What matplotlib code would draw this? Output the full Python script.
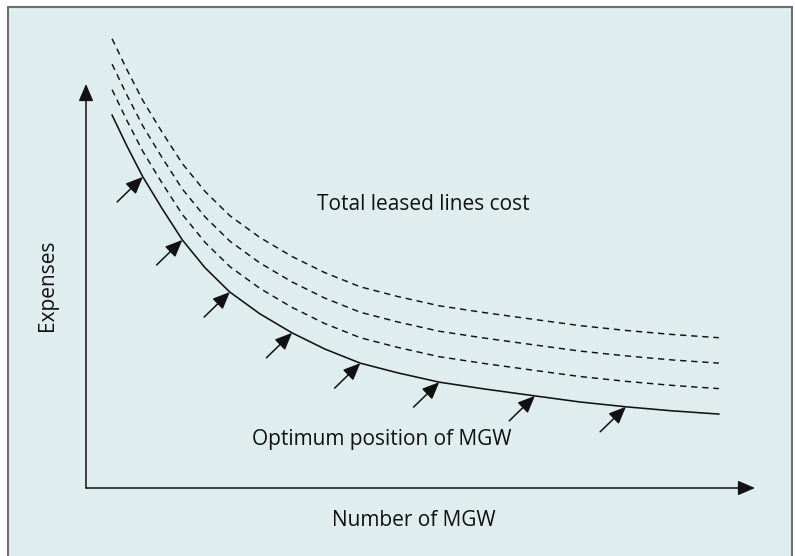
import matplotlib.pyplot as plt
from matplotlib.patches import Rectangle

plt.rcParams['font.family'] = ['Open Sans', 'DejaVu Sans']

# curve (arbitrary units, axis origin = 0,0)
mgw = [0.39, 0.61, 0.85, 1.14, 1.44, 1.78, 2.15, 2.60, 3.08, 3.57,
       4.10, 4.66, 5.28, 5.96, 6.71, 7.38, 8.07, 8.76, 9.46]
expenses = [9.23, 8.47, 7.70, 6.91, 6.14, 5.45, 4.85, 4.31, 3.84, 3.44,
            3.09, 2.85, 2.62, 2.45, 2.28, 2.13, 2.01, 1.91, 1.83]
# dashed "total leased lines cost" curves sit above the optimum curve
offsets = [0.63, 1.26, 1.89]
# arrows point at these curve points
arrow_idx = [2, 4, 6, 8, 10, 12, 14, 16]

bg = '#dfedee'
ink = '#111111'

fig = plt.figure(figsize=(7.95, 5.56), dpi=100)
fig.patch.set_facecolor('white')
fig.patches.append(Rectangle((8 / 795, -0.05), 784 / 795, 1 - 7 / 556 + 0.05,
                             transform=fig.transFigure, facecolor=bg,
                             edgecolor='#6e6e6e', linewidth=1.5, zorder=-10))

ax = fig.add_axes([86 / 795, 68 / 556, 669 / 795, 404 / 556])
ax.set_zorder(5)
ax.set_xlim(0, 10)
ax.set_ylim(0, 10)
ax.axis('off')

# axes with arrow heads
arrow = dict(arrowstyle='-|>,head_length=0.65,head_width=0.28',
             mutation_scale=16, color=ink, lw=1.1, shrinkA=0, shrinkB=0)
ax.annotate('', xy=(1, 0), xytext=(0, 0), xycoords='axes fraction',
            textcoords='axes fraction', arrowprops=arrow)
ax.annotate('', xy=(0, 1), xytext=(0, 0), xycoords='axes fraction',
            textcoords='axes fraction', arrowprops=arrow)

ax.plot(mgw, expenses, color=ink, lw=1.15, solid_joinstyle='round',
        clip_on=False)
for off in offsets:
    ax.plot(mgw, [e + off for e in expenses], color=ink, lw=1.05,
            dashes=(4.3, 3.3), clip_on=False)

for i in arrow_idx:
    ax.annotate('', xy=(mgw[i], expenses[i]), xytext=(-18.5, -18),
                textcoords='offset points', arrowprops=arrow)

fs = 15
fig.text(423 / 795, 1 - 205 / 556, 'Total leased lines cost', ha='center',
         va='center', fontsize=fs, color=ink)
fig.text(382 / 795, 1 - 440 / 556, 'Optimum position of MGW', ha='center',
         va='center', fontsize=fs, color=ink)
fig.text(414 / 795, 1 - 521 / 556, 'Number of MGW', ha='center',
         va='center', fontsize=fs, color=ink)
fig.text(48 / 795, 1 - 285 / 556, 'Expenses', ha='center', va='center',
         rotation=90, fontsize=fs, color=ink)

fig.savefig('out.png', dpi=100, facecolor='white')
